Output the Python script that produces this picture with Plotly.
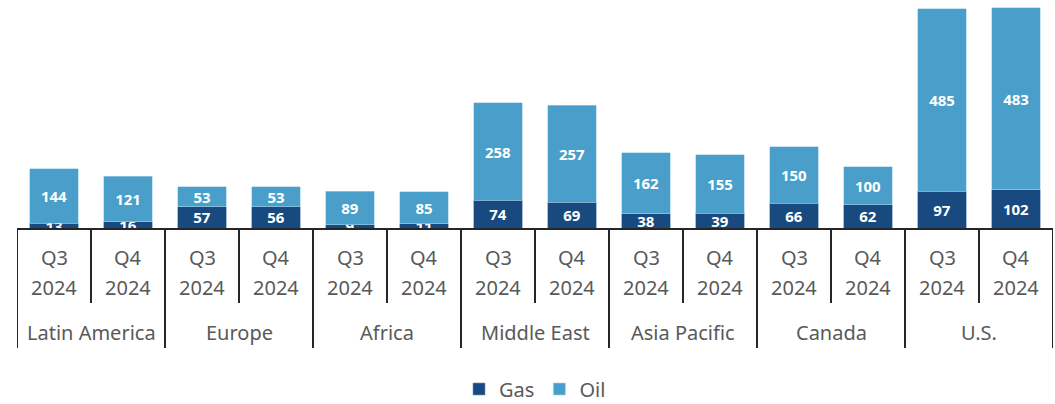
import plotly.graph_objects as go

regions = ["Latin America", "Europe", "Africa", "Middle East", "Asia Pacific", "Canada", "U.S."]
quarters = ["Q3", "Q4"]
year = "2024"
gas = [13, 16, 57, 56, 9, 11, 74, 69, 38, 39, 66, 62, 97, 102]
oil = [144, 121, 53, 53, 89, 85, 258, 257, 162, 155, 150, 100, 485, 483]

cats = [f"{r} {q}" for r in regions for q in quarters]

GAS_C = "#184A7F"
OIL_C = "#4A9FCA"
FONT = "Noto Sans"
LABEL_C = "#595959"
LINE_C = "#262626"

fig = go.Figure()
for name, vals, col, lc in [("Gas", gas, GAS_C, "#6F95BC"), ("Oil", oil, OIL_C, "#A9D2E8")]:
    fig.add_trace(go.Bar(
        x=cats, y=vals, name=name,
        marker=dict(color=col, line=dict(width=0.6, color=lc)),
        text=[str(v) for v in vals], textposition="inside", insidetextanchor="middle",
        textangle=0, constraintext="none",
        textfont=dict(color="white", size=15, family=FONT, weight="bold"),
    ))

n = len(cats)
for i, c in enumerate(cats):
    q = quarters[i % len(quarters)]
    fig.add_annotation(x=c, xref="x", y=0, yref="paper", yshift=-29, text=q,
                       showarrow=False, font=dict(size=20, color=LABEL_C, family=FONT),
                       yanchor="middle")
    fig.add_annotation(x=c, xref="x", y=0, yref="paper", yshift=-59, text=year,
                       showarrow=False, font=dict(size=20, color=LABEL_C, family=FONT),
                       yanchor="middle")
for g, r in enumerate(regions):
    fig.add_annotation(x=g * 2 + 0.5, xref="x", y=0, yref="paper", yshift=-104, text=r,
                       showarrow=False, font=dict(size=20, color=LABEL_C, family=FONT),
                       yanchor="middle")

PLOT_H = 226
for b in range(n + 1):
    xb = b - 0.5
    depth = 120 if b % 2 == 0 else 75
    fig.add_shape(type="line", xref="x", yref="paper", x0=xb, x1=xb,
                  y0=0, y1=-depth / PLOT_H, line=dict(color=LINE_C, width=2))

fig.update_layout(
    barmode="stack",
    bargap=0.34,
    width=1055, height=404,
    margin=dict(l=17, r=2, t=2, b=176, autoexpand=False),
    plot_bgcolor="white", paper_bgcolor="white",
    font=dict(family=FONT, size=20, color=LABEL_C),
    uniformtext=dict(minsize=15, mode="show"),
    showlegend=True,
    legend=dict(orientation="h", x=0.5, xanchor="center", y=-(389 - 228) / PLOT_H,
                yanchor="middle", font=dict(size=20, color=LABEL_C), traceorder="normal"),
    xaxis=dict(
        type="category", range=[-0.5, n - 0.5], showline=True, linecolor=LINE_C, linewidth=2,
        showticklabels=False, ticks="", showgrid=False, zeroline=False, fixedrange=True,
    ),
    yaxis=dict(range=[0, 600], visible=False, showgrid=False, zeroline=False),
)

fig.write_html("out.html")
